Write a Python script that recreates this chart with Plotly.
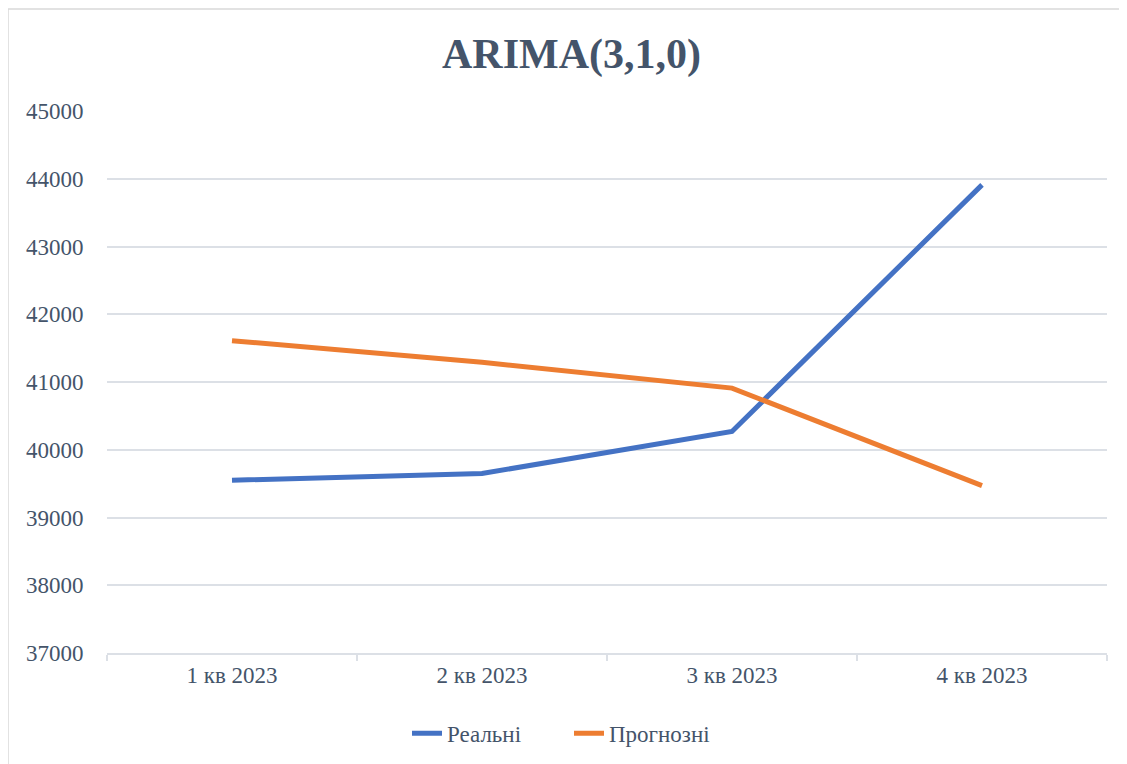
import plotly.graph_objects as go

quarters = ["1 кв 2023", "2 кв 2023", "3 кв 2023", "4 кв 2023"]
real = [39550, 39650, 40270, 43910]
forecast = [41610, 41290, 40910, 39470]

TEXT = "#44546A"
GRID = "#DCE0E6"
FONT = "Liberation Serif"

fig = go.Figure()
fig.add_trace(go.Scatter(x=quarters, y=real, name="Реальні", mode="lines",
                         line=dict(color="#4472C4", width=5)))
fig.add_trace(go.Scatter(x=quarters, y=forecast, name="Прогнозні", mode="lines",
                         line=dict(color="#ED7D31", width=5)))

# page body adds an 8px offset, margins compensate for it
fig.update_layout(
    width=1127, height=764,
    margin=dict(l=99, r=28, t=103, b=119),
    paper_bgcolor="white", plot_bgcolor="white",
    font=dict(family=FONT, size=23, color=TEXT),
    title=dict(text="<b>ARIMA(3,1,0)</b>", x=0.5, xanchor="center",
               y=0.941, yanchor="middle",
               font=dict(family=FONT, size=42, color=TEXT)),
    legend=dict(orientation="h", x=0.30, xanchor="left", y=-0.148,
                yanchor="middle", entrywidth=117,
                font=dict(family=FONT, size=23, color=TEXT)),
    showlegend=True,
)
fig.update_xaxes(type="category", range=[-0.5, 3.5], showgrid=False,
                 showline=True, linecolor=GRID, linewidth=2,
                 ticks="outside", tickson="boundaries", ticklen=6,
                 tickcolor=GRID, tickwidth=2)
fig.update_yaxes(range=[37000, 45000], dtick=1000, tickformat="d",
                 showgrid=True, gridcolor=GRID, gridwidth=2, zeroline=False,
                 ticks="outside", ticklen=18, tickcolor="rgba(0,0,0,0)")

# outer chart frame
fig.add_shape(type="rect", xref="paper", yref="paper",
              x0=-0.099, x1=1.1, y0=-0.3, y1=1.188,
              line=dict(color="#D9D9D9", width=1.5), layer="below")

fig.write_html("out.html")
